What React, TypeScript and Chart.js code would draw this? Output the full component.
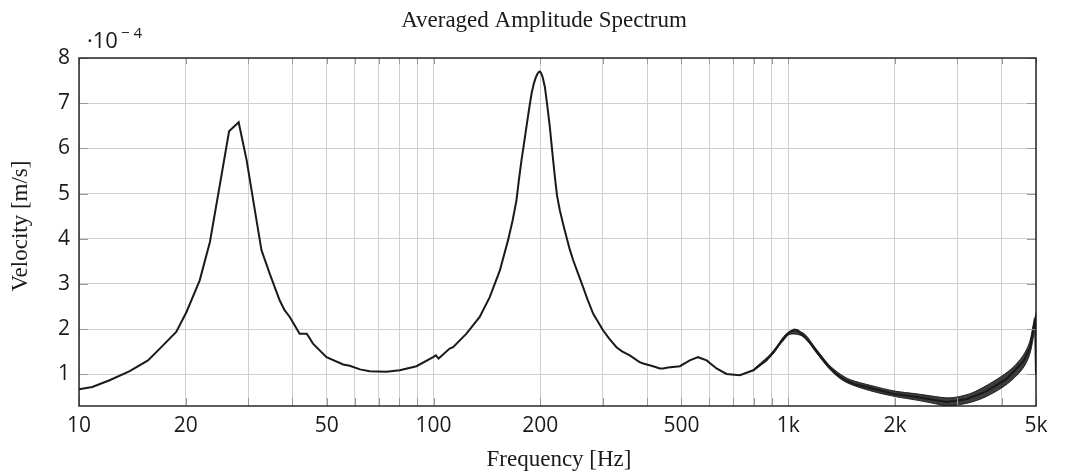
import React, { useEffect, useRef } from "react";
import { Chart, registerables } from "chart.js";

Chart.register(...registerables);

// Main spectrum (frequency in Hz, velocity in 1e-4 m/s)
const freq: number[] = [
  10, 10.9, 12.2, 13.9, 15.65, 16.9, 18.8, 20.1, 21.9, 23.4, 24.9, 26.5, 28.2, 29.7, 31.0, 32.7,
  34.5, 36.8, 38.0, 39.3, 41.9, 43.9, 45.7, 49.9, 55.6, 58, 62, 66, 73.6, 80.3, 89.5, 99.7, 101.5,
  103.3, 111, 113.5, 123.8, 134.9, 144, 153.8, 162.2, 167, 171.3, 174, 177, 180, 182.8, 186, 189,
  192, 194, 196, 198, 199.5, 201, 203, 206, 209, 212.7, 216, 219.8, 223, 227, 232, 237, 242, 247.5,
  255, 264, 272, 282, 290, 300.8, 312, 328, 340, 357.5, 381, 390, 416, 434.5, 444, 458.6,
  495, 528, 557, 589, 628, 670, 731, 797, 869, 948, 1011, 1040, 1066, 1127, 1176, 1228, 1300, 1369,
  1450, 1526, 1663, 1738, 1977, 2301, 2798, 3185, 3630, 4132, 4603, 4808, 4911, 4970, 5000,
];
const velocity: number[] = [
  0.67, 0.72, 0.87, 1.07, 1.31, 1.57, 1.94, 2.38, 3.08, 3.93, 5.15, 6.38, 6.58, 5.74, 4.85, 3.75,
  3.23, 2.64, 2.42, 2.27, 1.9, 1.9, 1.68, 1.38, 1.22, 1.19, 1.11, 1.07, 1.06, 1.09, 1.18, 1.38, 1.42,
  1.35, 1.57, 1.6, 1.9, 2.27, 2.71, 3.3, 3.97, 4.4, 4.85, 5.3, 5.74, 6.12, 6.48, 6.88, 7.22,
  7.45, 7.56, 7.64, 7.69, 7.7, 7.67, 7.58, 7.36, 6.98, 6.48, 5.95, 5.37, 4.95, 4.63, 4.32, 4.04,
  3.77, 3.53, 3.25, 2.93, 2.65, 2.34, 2.18, 1.97, 1.8, 1.6, 1.51, 1.42, 1.27, 1.24, 1.18, 1.13, 1.13,
  1.15, 1.18, 1.31, 1.38, 1.31, 1.13, 1.01, 0.98, 1.09, 1.31, 1.68, 1.94, 1.99, 1.97, 1.78, 1.62,
  1.42, 1.18, 1.0, 0.87, 0.79, 0.72, 0.68, 0.57, 0.5, 0.39, 0.45, 0.63, 0.9, 1.28, 1.58, 2.0, 2.2, 1.0,
];

// Noise envelope of the high-frequency part
const bandFreq: number[] = [
  800, 900, 1000, 1100, 1200, 1300, 1400, 1500, 1700, 2000, 2300, 2600, 2800, 3000, 3300, 3600,
  4000, 4300, 4600, 4800, 4950,
];
const bandHigh: number[] = [
  1.12, 1.48, 1.93, 1.92, 1.56, 1.22, 1.01, 0.88, 0.76, 0.63, 0.57, 0.51, 0.48, 0.5, 0.59, 0.74,
  0.96, 1.15, 1.42, 1.72, 2.25,
];
const bandLow: number[] = [
  1.08, 1.42, 1.87, 1.84, 1.48, 1.14, 0.91, 0.78, 0.64, 0.51, 0.43, 0.35, 0.3, 0.32, 0.39, 0.5,
  0.7, 0.89, 1.14, 1.44, 1.95,
];

const xGridValues: number[] = [
  10, 20, 30, 40, 50, 60, 70, 80, 90, 100, 200, 300, 400, 500, 600, 700, 800, 900, 1000, 2000,
  3000, 4000, 5000,
];
const xLabelValues: number[] = [10, 20, 50, 100, 200, 500, 1000, 2000, 5000];
const xLabelTexts: string[] = ["10", "20", "50", "100", "200", "500", "1k", "2k", "5k"];
const yTickValues: number[] = [1, 2, 3, 4, 5, 6, 7, 8];

const TITLE = "Averaged Amplitude Spectrum";
const X_TITLE = "Frequency [Hz]";
const Y_TITLE = "Velocity [m/s]";

const SANS = "'Open Sans', 'DejaVu Sans', sans-serif";
const SERIF = "'Liberation Serif', 'DejaVu Serif', serif";

const decorPlugin = {
  id: "decor",
  afterDraw(chart: any) {
    const { ctx, chartArea } = chart;
    const { left, right, top, bottom } = chartArea;
    const xs = chart.scales.x;
    const ys = chart.scales.y;
    ctx.save();
    // inner tick marks
    ctx.strokeStyle = "#9a9a9a";
    ctx.lineWidth = 1;
    ctx.beginPath();
    for (const v of xGridValues) {
      const px = Math.round(xs.getPixelForValue(v)) + 0.5;
      ctx.moveTo(px, top);
      ctx.lineTo(px, top + 6);
      ctx.moveTo(px, bottom);
      ctx.lineTo(px, bottom - 8);
    }
    for (const v of yTickValues) {
      const py = Math.round(ys.getPixelForValue(v)) + 0.5;
      ctx.moveTo(left, py);
      ctx.lineTo(left + 9, py);
      ctx.moveTo(right, py);
      ctx.lineTo(right - 9, py);
    }
    ctx.stroke();
    // frame
    ctx.strokeStyle = "#1a1a1a";
    ctx.lineWidth = 1.4;
    ctx.strokeRect(left, top, right - left, bottom - top);
    // texts
    ctx.fillStyle = "#1a1a1a";
    ctx.textBaseline = "alphabetic";
    ctx.textAlign = "center";
    ctx.font = `23px ${SERIF}`;
    ctx.fillText(TITLE, 544, 27);
    ctx.fillText(X_TITLE, 559, 466);
    ctx.save();
    ctx.translate(27, 226);
    ctx.rotate(-Math.PI / 2);
    ctx.fillText(Y_TITLE, 0, 0);
    ctx.restore();
    // exponent
    ctx.textAlign = "left";
    ctx.font = `22px ${SANS}`;
    ctx.fillText("\u00b710", 87, 48);
    ctx.font = `15px ${SANS}`;
    ctx.fillText("\u2212 4", 121, 38);
    ctx.restore();
  },
};

export default function App() {
  const ref = useRef<HTMLCanvasElement | null>(null);
  useEffect(() => {
    if (!ref.current) return;
    const main = freq.map((f, i) => ({ x: f, y: velocity[i] }));
    const hi = bandFreq.map((f, i) => ({ x: f, y: bandHigh[i] }));
    const lo = bandFreq.map((f, i) => ({ x: f, y: bandLow[i] }));
    const chart = new Chart(ref.current, {
      type: "line",
      data: {
        datasets: [
          {
            label: "band high",
            data: hi,
            borderColor: "rgba(26,26,26,0.9)",
            borderWidth: 1,
            pointRadius: 0,
            fill: false,
            tension: 0.3,
          },
          {
            label: "band low",
            data: lo,
            borderColor: "rgba(26,26,26,0.9)",
            borderWidth: 1,
            backgroundColor: "rgba(26,26,26,0.85)",
            pointRadius: 0,
            fill: "-1",
            tension: 0.3,
          },
          {
            label: "spectrum",
            data: main,
            borderColor: "#1a1a1a",
            borderWidth: 2,
            pointRadius: 0,
            fill: false,
            tension: 0,
          },
        ],
      },
      options: {
        animation: false,
        responsive: true,
        maintainAspectRatio: false,
        parsing: false as any,
        layout: { padding: { left: 0, right: 29, top: 58, bottom: 0 } },
        plugins: {
          legend: { display: false },
          title: { display: false },
          tooltip: { enabled: false },
        },
        scales: {
          x: {
            type: "logarithmic",
            min: 10,
            max: 5000,
            border: { display: false },
            grid: { color: "#d0d0d0", lineWidth: 1, drawTicks: false },
            afterBuildTicks: (scale: any) => {
              scale.ticks = xGridValues.map((v) => ({ value: v }));
            },
            afterFit: (scale: any) => {
              scale.height = 67;
            },
            ticks: {
              autoSkip: false,
              maxRotation: 0,
              padding: 7,
              color: "#1a1a1a",
              font: { family: SANS, size: 21 },
              callback: (value: any) => {
                const idx = xLabelValues.indexOf(Number(value));
                return idx >= 0 ? xLabelTexts[idx] : "";
              },
            },
          },
          y: {
            type: "linear",
            min: 0.3,
            max: 8,
            border: { display: false },
            grid: { color: "#d0d0d0", lineWidth: 1, drawTicks: false },
            afterBuildTicks: (scale: any) => {
              scale.ticks = yTickValues.map((v) => ({ value: v }));
            },
            afterFit: (scale: any) => {
              scale.width = 79;
            },
            ticks: {
              padding: 9,
              color: "#1a1a1a",
              font: { family: SANS, size: 21 },
              callback: (value: any) => String(value),
            },
          },
        },
      },
      plugins: [decorPlugin],
    });
    return () => chart.destroy();
  }, []);
  return (
    <div style={{ position: "absolute", left: 0, top: 0, width: 1065, height: 473, background: "#fff" }}>
      <canvas ref={ref} />
    </div>
  );
}
